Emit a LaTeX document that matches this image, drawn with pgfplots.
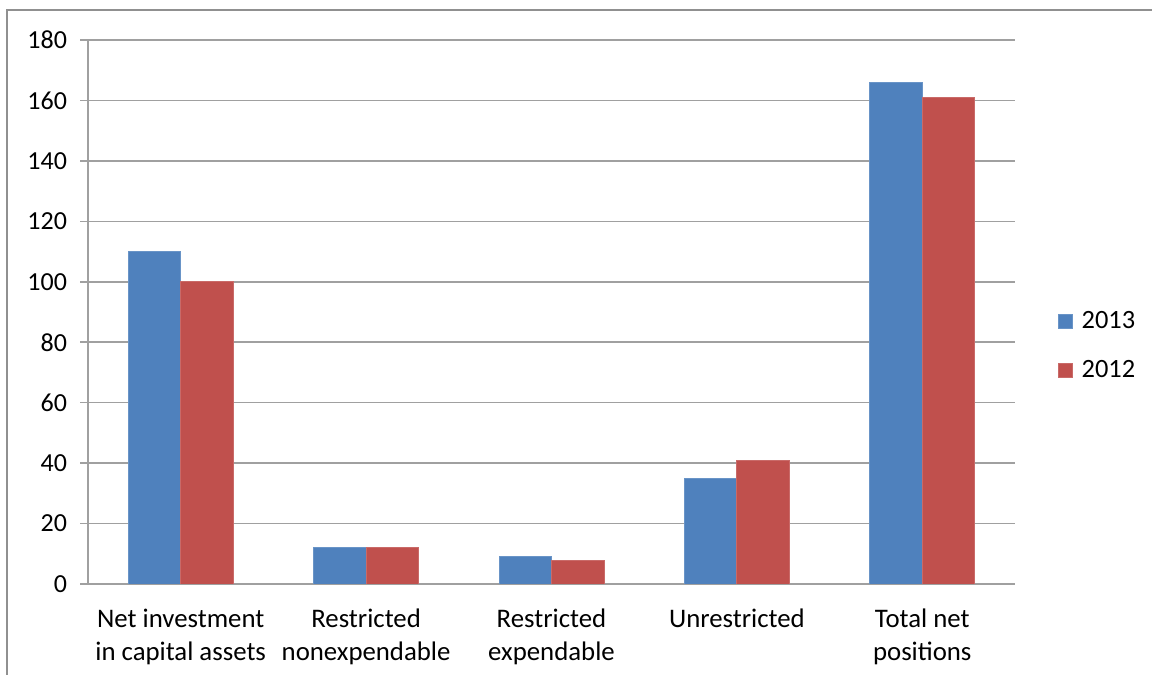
\documentclass[border=0pt]{standalone}
\usepackage{pgfplots}
\pgfplotsset{compat=1.18}
\usepackage{fontspec}
\setmainfont{Carlito}
\definecolor{xblue}{HTML}{4F81BD}
\definecolor{xred}{HTML}{C0504D}
\definecolor{gridc}{HTML}{A0A0A0}
\begin{document}
\begin{tikzpicture}[x=1pt,y=1pt]
\path[use as bounding box] (0,0) rectangle (576,337.5);
\draw[gridc!90!black, line width=1pt] (3.5,0) -- (3.5,332.5) -- (576,332.5);
\begin{axis}[
  at={(44pt,45.5pt)}, anchor=south west,
  scale only axis, width=463.5pt, height=272pt,
  ybar=0pt, bar width=0.283,
  xmin=-0.5, xmax=4.5, ymin=0, ymax=180, ytick distance=20,
  axis lines=left, axis line style={gridc, line width=0.8pt, -},
  ymajorgrids, grid style={gridc, line width=0.8pt},
  tick align=outside, major tick length=4pt,
  tick style={gridc, line width=0.8pt},
  xtick={0,1,2,3,4}, x tick style={draw=none},
  xticklabels={{Net investment\\in capital assets},{Restricted\\nonexpendable},{Restricted\\expendable},{Unrestricted},{Total net\\positions}},
  xticklabel style={align=center, font=\fontsize{13.4}{16.5}\selectfont, anchor=north, yshift=-5pt},
  extra x ticks={-0.5,0.5,1.5,2.5,3.5,4.5}, extra x tick labels={},
  extra x tick style={tick style={draw=gridc, line width=0.8pt}, grid=none},
  yticklabel style={font=\fontsize{13}{16}\selectfont, xshift=-3pt},
  /pgf/number format/assume math mode=true,
  legend style={draw=none, at={(1.0394,0.4375)}, anchor=west, font=\fontsize{13.2}{16}\selectfont, row sep=10.5pt, fill=none},
  legend cell align=left,
  legend image code/.code={\fill[#1] (0pt,-3.5pt) rectangle (7pt,3.5pt); \path (9.5pt,0pt);},
  enlarge x limits=false,
]
\addplot[fill=xblue, draw=xblue!85!white] coordinates {(0,110) (1,12) (2,9.2) (3,35) (4,166)};
\addplot[fill=xred, draw=xred!85!white] coordinates {(0,100) (1,12) (2,7.8) (3,40.8) (4,161)};
\legend{2013,2012}
\end{axis}
\end{tikzpicture}
\end{document}
